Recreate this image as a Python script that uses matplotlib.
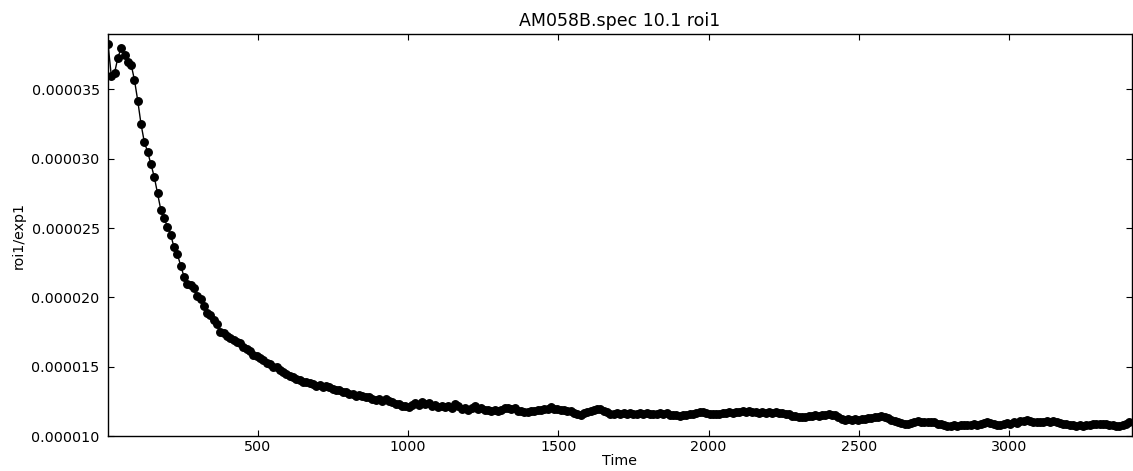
import numpy as np
import matplotlib
matplotlib.use("Agg")
import matplotlib.pyplot as plt
from matplotlib.ticker import FormatStrFormatter

# time of each scan (s)
time = [
    1, 12, 23, 34, 45, 56, 67, 78, 89, 100,
    111, 122, 133, 144, 155, 166, 177, 188, 199, 210,
    221, 232, 243, 254, 265, 276, 287, 298, 309, 320,
    331, 342, 353, 364, 375, 386, 397, 408, 419, 430,
    441, 452, 463, 474, 485, 496, 507, 518, 529, 540,
    551, 562, 573, 584, 595, 606, 617, 628, 639, 650,
    661, 672, 683, 694, 705, 716, 727, 738, 749, 760,
    771, 782, 793, 804, 815, 826, 837, 848, 859, 870,
    881, 892, 903, 914, 925, 936, 947, 958, 969, 980,
    991, 1002, 1013, 1024, 1035, 1046, 1057, 1068, 1079, 1090,
    1101, 1112, 1123, 1134, 1145, 1156, 1167, 1178, 1189, 1200,
    1211, 1222, 1233, 1244, 1255, 1266, 1277, 1288, 1299, 1310,
    1321, 1332, 1343, 1354, 1365, 1376, 1387, 1398, 1409, 1420,
    1431, 1442, 1453, 1464, 1475, 1486, 1497, 1508, 1519, 1530,
    1541, 1552, 1563, 1574, 1585, 1596, 1607, 1618, 1629, 1640,
    1651, 1662, 1673, 1684, 1695, 1706, 1717, 1728, 1739, 1750,
    1761, 1772, 1783, 1794, 1805, 1816, 1827, 1838, 1849, 1860,
    1871, 1882, 1893, 1904, 1915, 1926, 1937, 1948, 1959, 1970,
    1981, 1992, 2003, 2014, 2025, 2036, 2047, 2058, 2069, 2080,
    2091, 2102, 2113, 2124, 2135, 2146, 2157, 2168, 2179, 2190,
    2201, 2212, 2223, 2234, 2245, 2256, 2267, 2278, 2289, 2300,
    2311, 2322, 2333, 2344, 2355, 2366, 2377, 2388, 2399, 2410,
    2421, 2432, 2443, 2454, 2465, 2476, 2487, 2498, 2509, 2520,
    2531, 2542, 2553, 2564, 2575, 2586, 2597, 2608, 2619, 2630,
    2641, 2652, 2663, 2674, 2685, 2696, 2707, 2718, 2729, 2740,
    2751, 2762, 2773, 2784, 2795, 2806, 2817, 2828, 2839, 2850,
    2861, 2872, 2883, 2894, 2905, 2916, 2927, 2938, 2949, 2960,
    2971, 2982, 2993, 3004, 3015, 3026, 3037, 3048, 3059, 3070,
    3081, 3092, 3103, 3114, 3125, 3136, 3147, 3158, 3169, 3180,
    3191, 3202, 3213, 3224, 3235, 3246, 3257, 3268, 3279, 3290,
    3301, 3312, 3323, 3334, 3345, 3356, 3367, 3378, 3389, 3400,
]

# roi1/exp1 in units of 1e-6
roi1 = [
    38.3, 36.0, 36.2, 37.3, 38.0, 37.5, 37.0, 36.8, 35.7, 34.2,
    32.5, 31.2, 30.5, 29.6, 28.7, 27.5, 26.3, 25.7, 25.1, 24.5,
    23.6, 23.1, 22.3, 21.5, 21.0, 20.9, 20.7, 20.1, 19.9, 19.4,
    18.9, 18.7, 18.4, 18.1, 17.5, 17.4, 17.2, 17.05, 16.95, 16.8,
    16.7, 16.45, 16.3, 16.1, 15.85, 15.75, 15.6, 15.5, 15.3, 15.2,
    15.0, 14.95, 14.75, 14.6, 14.5, 14.3, 14.25, 14.1, 14.05, 13.9,
    13.9, 13.8, 13.75, 13.6, 13.65, 13.5, 13.6, 13.5, 13.4, 13.3,
    13.3, 13.15, 13.15, 13.0, 13.05, 12.9, 12.95, 12.85, 12.8, 12.8,
    12.7, 12.6, 12.7, 12.55, 12.65, 12.55, 12.45, 12.3, 12.3, 12.15,
    12.2, 12.1, 12.25, 12.35, 12.25, 12.45, 12.3, 12.35, 12.2, 12.25,
    12.1, 12.15, 12.1, 12.15, 12.05, 12.3, 12.15, 11.95, 12.0, 11.85,
    12.05, 12.15, 11.95, 12.0, 11.85, 11.9, 11.78, 11.88, 11.8, 11.9,
    12.05, 12.0, 11.95, 12.0, 11.82, 11.8, 11.72, 11.75, 11.82, 11.78,
    11.9, 11.88, 11.98, 11.95, 12.08, 11.98, 11.95, 11.88, 11.85, 11.78,
    11.78, 11.68, 11.62, 11.5, 11.65, 11.72, 11.82, 11.85, 11.92, 11.95,
    11.8, 11.72, 11.62, 11.6, 11.68, 11.62, 11.66, 11.58, 11.66, 11.62,
    11.6, 11.65, 11.62, 11.66, 11.58, 11.62, 11.6, 11.64, 11.6, 11.66,
    11.55, 11.5, 11.52, 11.46, 11.55, 11.52, 11.6, 11.58, 11.66, 11.72,
    11.7, 11.64, 11.6, 11.58, 11.62, 11.6, 11.68, 11.64, 11.7, 11.66,
    11.72, 11.7, 11.78, 11.74, 11.8, 11.72, 11.7, 11.66, 11.7, 11.66,
    11.7, 11.66, 11.7, 11.64, 11.68, 11.6, 11.56, 11.46, 11.42, 11.34,
    11.4, 11.38, 11.46, 11.42, 11.5, 11.46, 11.55, 11.5, 11.56, 11.52,
    11.5, 11.38, 11.25, 11.18, 11.24, 11.18, 11.2, 11.16, 11.24, 11.22,
    11.3, 11.28, 11.38, 11.4, 11.45, 11.35, 11.27, 11.12, 11.06, 11.0,
    10.95, 10.88, 10.86, 10.94, 10.98, 11.06, 11.02, 11.04, 10.98, 11.02,
    10.98, 10.9, 10.86, 10.76, 10.72, 10.7, 10.76, 10.74, 10.78, 10.76,
    10.82, 10.78, 10.84, 10.82, 10.9, 10.96, 11.02, 10.92, 10.88, 10.8,
    10.82, 10.84, 10.92, 10.9, 10.98, 10.96, 11.06, 11.08, 11.14, 11.06,
    11.04, 10.98, 11.02, 10.98, 11.06, 11.02, 11.08, 11.0, 10.96, 10.86,
    10.84, 10.78, 10.8, 10.74, 10.78, 10.74, 10.8, 10.82, 10.88, 10.86,
    10.9, 10.84, 10.84, 10.76, 10.76, 10.7, 10.74, 10.82, 10.88, 11.0,
]

x_ticks = [500, 1000, 1500, 2000, 2500, 3000]
y_ticks = [0.000010, 0.000015, 0.000020, 0.000025, 0.000030, 0.000035]

y = np.array(roi1) * 1e-6

fig = plt.figure(figsize=(11.33, 4.71), dpi=100)
ax = fig.add_axes([0.0953, 0.0743, 0.9038, 0.8535])

ax.plot(time, y, color='black', linewidth=1, marker='o', markersize=5.4,
        markerfacecolor='black', markeredgecolor='black')

ax.set_xlim(1, 3409)
ax.set_ylim(1.0e-5, 3.9e-5)
ax.set_xticks(x_ticks)
ax.set_yticks(y_ticks)
ax.yaxis.set_major_formatter(FormatStrFormatter('%.6f'))

ax.tick_params(direction='in', top=True, right=True, length=4, width=0.8,
               labelsize=10.3)
ax.tick_params(axis='x', pad=3)
ax.tick_params(axis='y', pad=6)
for s in ax.spines.values():
    s.set_linewidth(1)

ax.set_title('AM058B.spec 10.1 roi1', fontsize=12.5, pad=6)
ax.set_xlabel('Time', fontsize=10.3, labelpad=0)
ax.set_ylabel('roi1/exp1', fontsize=10.3, labelpad=4)

fig.savefig('out.png', dpi=100)
